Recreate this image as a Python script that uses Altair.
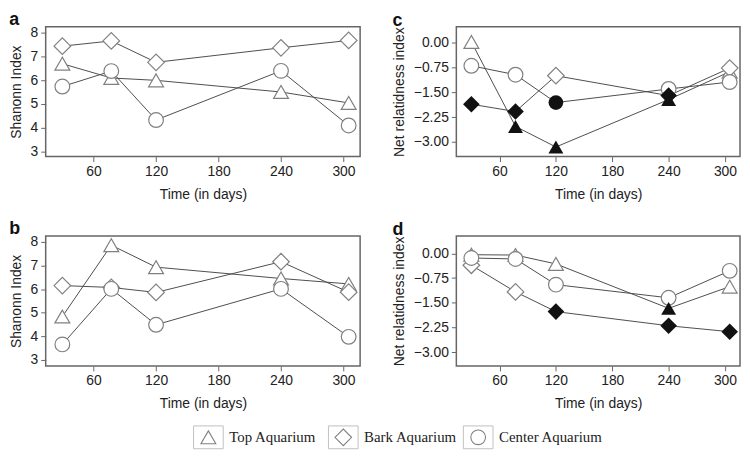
import altair as alt
import pandas as pd

# ---------------- data ----------------
days = [30, 77, 120, 240, 305]
series = ["Top Aquarium", "Bark Aquarium", "Center Aquarium"]
x_ticks = [60, 120, 180, 240, 300]

# panel a (Shannon index)
a_top = [6.69, 6.09, 5.99, 5.50, 5.04]
a_bark = [7.43, 7.65, 6.75, 7.36, 7.67]
a_center = [5.73, 6.38, 4.32, 6.39, 4.09]

# panel b (Shannon index)
b_top = [4.84, 7.86, 6.93, 6.45, 6.22]
b_bark = [6.15, 6.07, 5.86, 7.16, 5.87]
b_center = [3.66, 6.01, 4.49, 6.01, 3.98]

# panel c (net relatedness index)
c_top = [0.02, -2.53, -3.15, -1.72, -0.88]
c_bark = [-1.86, -2.08, -1.00, -1.60, -0.77]
c_center = [-0.70, -0.97, -1.81, -1.40, -1.19]
c_top_filled = [False, True, True, True, False]
c_bark_filled = [True, True, False, True, False]
c_center_filled = [False, False, True, False, False]

# panel d (net relatedness index)
d_top = [-0.04, -0.05, -0.32, -1.67, -1.01]
d_bark = [-0.36, -1.17, -1.77, -2.20, -2.38]
d_center = [-0.14, -0.17, -0.95, -1.35, -0.53]
d_top_filled = [False, False, False, True, False]
d_bark_filled = [False, False, True, True, True]
d_center_filled = [False, False, False, False, False]

shannon_ticks = [3, 4, 5, 6, 7, 8]
nri_ticks = [0.0, -0.75, -1.5, -2.25, -3.0]
legend_order = [0, 1, 2]

no_fill = [False] * 5


def frame(top, bark, center, top_f=no_fill, bark_f=no_fill, center_f=no_fill):
    rows = []
    for name, vals, fl in zip(series, [top, bark, center], [top_f, bark_f, center_f]):
        for d, v, f in zip(days, vals, fl):
            rows.append({"day": d, "value": v, "series": name, "filled": f})
    return pd.DataFrame(rows)


df_a = frame(a_top, a_bark, a_center)
df_b = frame(b_top, b_bark, b_center)
df_c = frame(c_top, c_bark, c_center, c_top_filled, c_bark_filled, c_center_filled)
df_d = frame(d_top, d_bark, d_center, d_top_filled, d_bark_filled, d_center_filled)

# ---------------- styling ----------------
FONT = "Liberation Sans"
shape_range = ["triangle-up", "diamond", "circle"]
size_range = [225, 280, 220]
H = 131
W_LEFT = 317
W_RIGHT = 286


def panel(df, letter, ytitle, ydom, yticks, yfmt, width):
    x = alt.X("day:Q",
              scale=alt.Scale(domain=[14, 316], nice=False, zero=False),
              axis=alt.Axis(values=x_ticks, title="Time (in days)", grid=False,
                            labelPadding=3, titlePadding=9))
    y = alt.Y("value:Q",
              scale=alt.Scale(domain=ydom, nice=False, zero=False),
              axis=alt.Axis(values=yticks, format=yfmt, title=ytitle, grid=False,
                            labelPadding=3, titlePadding=7))
    shape = alt.Shape("series:N", scale=alt.Scale(domain=series, range=shape_range), legend=None)
    size = alt.Size("series:N", scale=alt.Scale(type="ordinal", domain=series, range=size_range), legend=None)
    base = alt.Chart(df).encode(x=x, y=y)
    line = base.mark_line(color="#4d4d4d", strokeWidth=1).encode(detail="series:N")
    open_m = base.transform_filter("!datum.filled").mark_point(
        filled=True, fill="white", stroke="#808080", strokeWidth=1.2, opacity=1
    ).encode(shape=shape, size=size)
    fill_m = base.transform_filter("datum.filled").mark_point(
        filled=True, color="#111111", opacity=1
    ).encode(shape=shape, size=size)
    return alt.layer(line, open_m, fill_m).properties(
        width=width, height=H,
        title=alt.TitleParams(letter, anchor="start", frame="bounds", fontSize=18,
                              fontWeight="bold", font=FONT, color="#111111", offset=-3),
    )


pa = panel(df_a, "a", "Shanonn Index", [2.78, 8.25], shannon_ticks, "d", W_LEFT)
pb = panel(df_b, "b", "Shanonn Index", [2.75, 8.25], shannon_ticks, "d", W_LEFT)
pc = panel(df_c, "c", "Net relatidness index", [-3.44, 0.48], nri_ticks, ".2f", W_RIGHT)
pd_ = panel(df_d, "d", "Net relatidness index", [-3.42, 0.53], nri_ticks, ".2f", W_RIGHT)

row1 = alt.hconcat(pa, pc, spacing=30)
row2 = alt.hconcat(pb, pd_, spacing=30)
grid = alt.vconcat(row1, row2, spacing=17)

# ---------------- legend row ----------------
leg_df = pd.DataFrame({"series": series, "order": legend_order})
LEG_W = 700
lx = alt.X("order:Q", scale=alt.Scale(domain=[-1.206, 3.941], nice=False, zero=False), axis=None)
leg_base = alt.Chart(leg_df).encode(x=lx, y=alt.value(12))
leg_box = leg_base.mark_point(
    shape="M-1.3,-1L1.3,-1L1.3,1L-1.3,1Z", size=529, filled=True,
    fill="white", stroke="#c0c0c0", strokeWidth=1, opacity=1,
)
leg_sym = leg_base.mark_point(filled=True, fill="white", stroke="#808080",
                              strokeWidth=1.1, opacity=1).encode(
    shape=alt.Shape("series:N", scale=alt.Scale(domain=series, range=shape_range), legend=None),
    size=alt.Size("series:N", scale=alt.Scale(type="ordinal", domain=series, range=[190, 170, 110]), legend=None),
)
leg_txt = leg_base.mark_text(align="left", baseline="middle", dx=21,
                             font="Liberation Serif", fontSize=15, color="#222222").encode(text="series:N")
legend = alt.layer(leg_box, leg_sym, leg_txt).properties(
    width=LEG_W, height=24, view=alt.ViewBackground(stroke="transparent")
)

chart = alt.vconcat(grid, legend, spacing=11).configure_view(
    stroke="#666666", strokeWidth=1.5
).configure_axis(
    domain=False, tickColor="#666666", tickSize=5, tickWidth=1,
    labelFont=FONT, labelFontSize=14, labelColor="#222222",
    titleFont=FONT, titleFontSize=14, titleFontWeight="normal", titleColor="#222222",
).properties(padding=0, background="white")

chart.save("out.html", embed_options={"renderer": "svg", "actions": False})
